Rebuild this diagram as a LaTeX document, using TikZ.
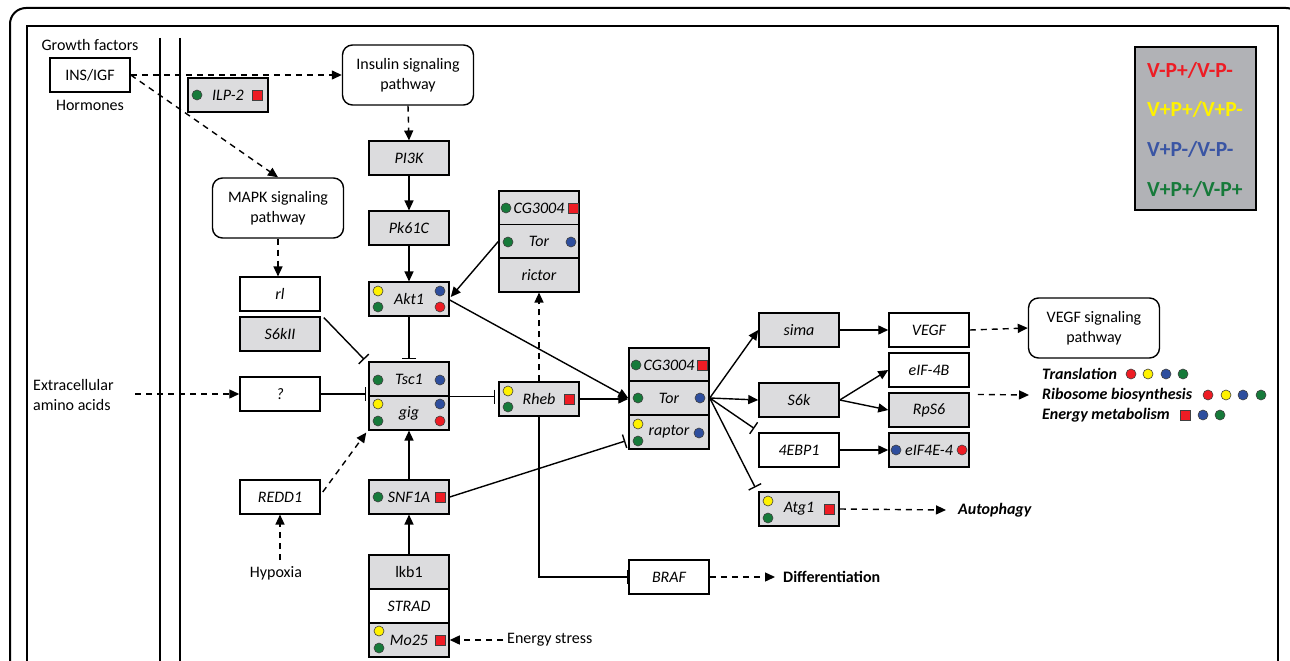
\documentclass[tikz,border=0pt]{standalone}
\usepackage{fontspec}
\setmainfont{Carlito}
\usetikzlibrary{arrows.meta,calc}
\definecolor{boxgray}{HTML}{DCDCDE}
\definecolor{leggray}{HTML}{B1B2B6}
\definecolor{dred}{HTML}{EE1C24}
\definecolor{dyel}{HTML}{FFF200}
\definecolor{dblue}{HTML}{2E4E9E}
\definecolor{dgreen}{HTML}{167A3A}
\definecolor{lblue}{HTML}{3A55A4}
\newcommand\mydot[2]{\filldraw[fill=#1,draw=black!75,line width=0.6pt] (#2) circle (5pt);}
\newcommand\mysq[1]{\filldraw[fill=dred,draw=black!75,line width=0.6pt] (#1) ++(-5,-5) rectangle ++(10,10);}
\begin{document}
\begin{tikzpicture}[x=1pt,y=-1pt,
  every node/.style={font=\fontsize{16}{20}\selectfont},
  box/.style={draw, line width=1.5pt, minimum width=80pt, minimum height=33.6pt, inner sep=0pt, font=\fontsize{16}{20}\selectfont\itshape},
  gbox/.style={box, fill=boxgray},
  wbox/.style={box, fill=white},
  pbox/.style={draw, line width=1.4pt, rounded corners=10pt, minimum width=131pt, minimum height=60pt, align=center, inner sep=0pt, fill=white},
  lbl/.style={inner sep=0pt, align=left},
  outc/.style={inner sep=0pt, font=\fontsize{16}{20}\selectfont\bfseries\itshape},
  legt/.style={inner sep=0pt, anchor=west, font=\fontsize{21.5}{24}\selectfont\bfseries},
  conn/.style={line width=1.4pt},
  arr/.style={conn, -{Triangle[length=10pt,width=9pt]}},
  darr/.style={arr, dash pattern=on 6pt off 5pt},
  inh/.style={conn, -{Bar[width=14pt,line width=1.4pt]}},
]
\useasboundingbox (0,0) rectangle (1290,661);
\clip (0,0) rectangle (1290,661);
% frames
\draw[line width=2pt, rounded corners=16pt] (10,8) rectangle (1302,700);
\draw[line width=2pt] (27,26) rectangle (1278,700);
\draw[line width=1.5pt] (160,38) -- (160,661);
\draw[line width=1.5pt] (180,38) -- (180,661);

% legend
\node[draw, line width=2pt, fill=leggray, minimum width=121pt, minimum height=163pt, inner sep=0pt] (legend) at (1195,128.5) {};
\node[legt, text=dred] (l1) at (1147,70) {V-P+/V-P-};
\node[legt, text=dyel] (l2) at (1147,109) {V+P+/V+P-};
\node[legt, text=lblue] (l3) at (1147,149) {V+P-/V-P-};
\node[legt, text=dgreen] (l4) at (1147,189) {V+P+/V-P+};

% left labels
\node[lbl] (gf) at (90,45) {Growth factors};
\node[wbox, font=\fontsize{16}{20}\selectfont] (insigf) at (90,75) {INS/IGF};
\node[lbl] (horm) at (90,105) {Hormones};
\node[lbl, anchor=west] (aa) at (33,395) {Extracellular\\amino acids};
\node[lbl] (hyp) at (276,573) {Hypoxia};
\node[lbl, anchor=west] (es) at (507,640) {Energy stress};

% pathways
\node[pbox] (insp) at (408,75) {Insulin signaling\\pathway};
\node[pbox] (mapk) at (278,208) {MAPK signaling\\pathway};
\node[pbox] (vegfp) at (1094,328) {VEGF signaling\\pathway};

% boxes
\node[gbox] (ilp2) at (228,95) {ILP-2};
\node[gbox] (pi3k) at (409,158) {PI3K};
\node[gbox] (pk61c) at (409,228) {Pk61C};
\node[gbox] (akt1) at (409,299) {Akt1};
\node[gbox] (tsc1) at (409,379) {Tsc1};
\node[gbox] (gig) at (409,413) {gig};
\node[gbox] (cga) at (539,208) {CG3004};
\node[gbox] (tora) at (539,241.5) {Tor};
\node[gbox] (rictor) at (539,275) {rictor};
\node[gbox] (rheb) at (539,399) {Rheb};
\node[wbox] (rl) at (280,294) {rl};
\node[gbox] (s6kii) at (280,334) {S6kII};
\node[wbox] (q) at (280,394) {?};
\node[wbox] (redd1) at (280,497) {REDD1};
\node[gbox] (snf1a) at (409,497) {SNF1A};
\node[gbox, font=\fontsize{16}{20}\selectfont] (lkb1) at (409,572) {lkb1};
\node[wbox] (strad) at (409,606) {STRAD};
\node[gbox] (mo25) at (409,640) {Mo25};
\node[gbox] (cgb) at (669,365) {CG3004};
\node[gbox] (torb) at (669,398) {Tor};
\node[gbox] (raptor) at (669,432) {raptor};
\node[gbox] (sima) at (799,330) {sima};
\node[wbox] (vegf) at (929,330) {VEGF};
\node[wbox] (eif4b) at (929,370) {eIF-4B};
\node[gbox] (rps6) at (929,410) {RpS6};
\node[gbox] (s6k) at (799,400) {S6k};
\node[wbox] (ebp) at (799,450) {4EBP1};
\node[gbox] (eif4e) at (929,450) {eIF4E-4};
\node[gbox] (atg1) at (799,509) {Atg1};
\node[wbox] (braf) at (669,577) {BRAF};

% outcomes
\node[outc, anchor=west] (trans) at (1042,374) {Translation};
\node[outc, anchor=west] (rib) at (1042,395) {Ribosome biosynthesis};
\node[outc, anchor=west] (energy) at (1042,415) {Energy metabolism};
\node[outc, anchor=west] (auto) at (958,510) {Autophagy};
\node[inner sep=0pt, anchor=west, font=\fontsize{16}{20}\selectfont\bfseries] (diff) at (783,577) {Differentiation};

% dots
\mydot{dgreen}{197,95} \mysq{257,95}
\mydot{dyel}{378,291} \mydot{dgreen}{378,307} \mydot{dblue}{440,291} \mydot{dred}{440,307}
\mydot{dgreen}{378,380} \mydot{dblue}{440,380}
\mydot{dyel}{378,404} \mydot{dgreen}{378,421} \mydot{dblue}{440,404} \mydot{dred}{440,421}
\mydot{dgreen}{506,208} \mysq{573,208}
\mydot{dgreen}{508,242} \mydot{dblue}{571,242}
\mydot{dyel}{508,391} \mydot{dgreen}{508,407} \mysq{569,399}
\mydot{dgreen}{378,497} \mysq{440,497}
\mydot{dyel}{379,631} \mydot{dgreen}{379,648} \mysq{440,640}
\mydot{dgreen}{636,365} \mysq{702,365}
\mydot{dgreen}{638,398} \mydot{dblue}{700,398}
\mydot{dyel}{638,424} \mydot{dgreen}{638,441} \mydot{dblue}{699,433}
\mydot{dblue}{896,450} \mydot{dred}{962,450}
\mydot{dyel}{768,501} \mydot{dgreen}{768,518} \mysq{829,509}
\mydot{dred}{1131,374} \mydot{dyel}{1148,374} \mydot{dblue}{1166,374} \mydot{dgreen}{1183,374}
\mydot{dred}{1208,395} \mydot{dyel}{1226,395} \mydot{dblue}{1243,395} \mydot{dgreen}{1261,395}
\mysq{1185,415} \mydot{dblue}{1203,415} \mydot{dgreen}{1220,415}

% connectors
\draw[darr] (insigf.east) -- (insp.west);
\draw[darr] (insigf.east) -- (mapk.north);
\draw[darr] (insp.south) -- (pi3k.north);
\draw[arr] (pi3k) -- (pk61c);
\draw[arr] (pk61c) -- (akt1);
\draw[darr] (mapk.south) -- (mapk.south |- rl.north);
\draw[inh, shorten >=2pt] (akt1.south) -- (tsc1.north);
\draw[inh] ($(rl.south east)+(3,6)$) -- ($(tsc1.north west)+(-4,-2)$);
\draw[inh, shorten >=2pt] (q.east) -- (q.east -| tsc1.west);
\coordinate (aa0) at (135,394);
\draw[darr] (aa0) -- (q.west);
\draw[darr] ($(redd1.east)+(2,-5)$) -- ($(gig.south west)+(-2,2)$);
\coordinate (hy0) at (280,560);
\draw[darr] (hy0) -- (redd1.south);
\draw[arr] (snf1a) -- (gig);
\draw[arr] (lkb1) -- (snf1a);
\draw[darr, shorten <=4pt] (es.west) -- (mo25.east);
\draw[arr] ($(akt1.east)+(0,1)$) -- (torb.west);
\draw[arr] (tora.west) -- ($(akt1.east)+(1,-2)$);
\draw[inh, shorten >=3pt] (tsc1.south east) -- (tsc1.south east -| rheb.west);
\draw[darr] (rheb.north) -- (rictor.south);
\draw[arr] (rheb.east) -- (rheb.east -| torb.west);
\draw[inh] (rheb.south) |- (braf.west);
\draw[inh] (snf1a.east) -- ($(raptor.west)+(-3,9)$);
\draw[arr] (torb.east) -- (sima.west);
\draw[arr] (torb.east) -- (s6k.west);
\draw[inh] (torb.east) -- ($(ebp.north west)+(-4,-4)$);
\draw[inh] (torb.east) -- ($(atg1.north west)+(-3,-4)$);
\draw[arr] (sima) -- (vegf);
\draw[arr] (ebp) -- (eif4e);
\draw[arr] (s6k.east) -- (eif4b.west);
\draw[arr] (s6k.east) -- (rps6.west);
\draw[darr] (vegf.east) -- (vegfp.west);
\draw[darr] ($(rps6.north east)+(8,2)$) -- ($(rib.west)+(-13,0)$);
\draw[darr] (atg1.east) -- ($(auto.west)+(-12,0)$);
\draw[darr] (braf.east) -- ($(diff.west)+(-8,0)$);
\end{tikzpicture}
\end{document}
